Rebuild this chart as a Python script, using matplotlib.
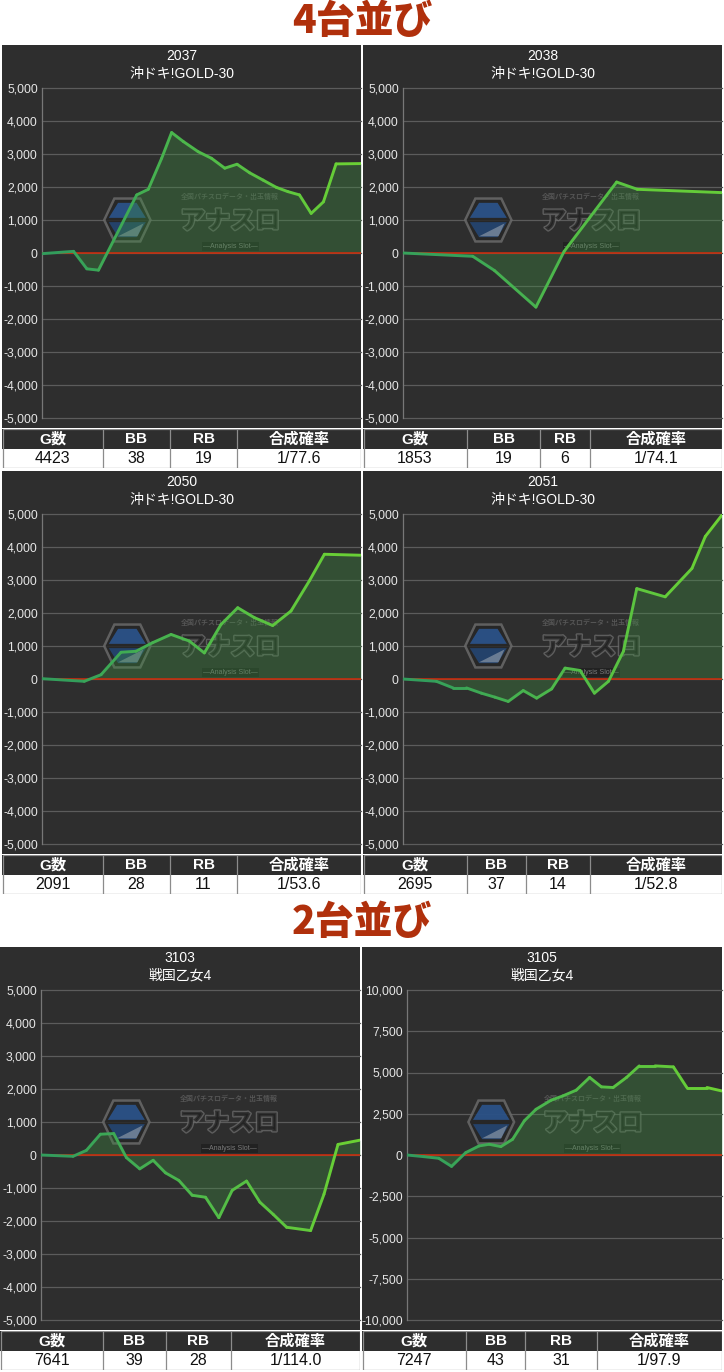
import numpy as np
import matplotlib
matplotlib.use("Agg")
import matplotlib.pyplot as plt
from matplotlib.collections import LineCollection
from matplotlib.colors import LinearSegmentedColormap
from matplotlib.patches import Polygon, Rectangle
from matplotlib import font_manager
import matplotlib.patheffects as pe

W, H = 724, 1372

# ---- data ----
section_titles = ["4台並び", "2台並び"]
units = ["2037", "2038", "2050", "2051", "3103", "3105"]
machines = ["沖ドキ!GOLD-30", "沖ドキ!GOLD-30", "沖ドキ!GOLD-30", "沖ドキ!GOLD-30",
            "戦国乙女4", "戦国乙女4"]

g2037 = [0, 438, 622, 783, 1313, 1474, 1659, 1797, 1958, 2165, 2350, 2534, 2704,
         2879, 3064, 3248, 3409, 3570, 3732, 3902, 4077, 4423]
d2037 = [-20, 50, -480, -520, 1760, 1930, 2870, 3650, 3380, 3070, 2870, 2570, 2690,
         2430, 2210, 1990, 1860, 1760, 1200, 1550, 2700, 2710]

g2038 = [0, 405, 531, 772, 936, 1241, 1361, 1853]
d2038 = [0, -100, -530, -1640, 50, 2150, 1930, 1830]

g2050 = [0, 277, 387, 518, 616, 725, 846, 966, 1064, 1173, 1283, 1392, 1512, 1632,
         1752, 1851, 2091]
d2050 = [10, -70, 130, 810, 840, 1100, 1350, 1150, 790, 1650, 2160, 1860, 1620, 2060,
         2970, 3780, 3750]

g2051 = [0, 282, 423, 536, 663, 776, 889, 1016, 1129, 1256, 1369, 1496, 1617, 1736,
         1862, 1975, 2215, 2441, 2554, 2695]
d2051 = [0, -70, -270, -270, -430, -550, -680, -350, -580, -300, 330, 260, -430, -70,
         840, 2740, 2490, 3350, 4320, 4970]

g3103 = [0, 767, 1087, 1423, 1742, 2046, 2366, 2686, 2981, 3301, 3621, 3941, 4260,
         4580, 4924, 5243, 5563, 5883, 6458, 6778, 7114, 7641]
d3103 = [0, -40, 140, 630, 650, -80, -420, -160, -540, -770, -1220, -1280, -1900,
         -1070, -790, -1430, -1800, -2190, -2290, -1190, 320, 450]

g3105 = [0, 386, 732, 1025, 1349, 1658, 1889, 2159, 2429, 2699, 2968, 3315, 3585,
         3894, 4202, 4472, 4742, 5050, 5343, 5706, 6129, 6438, 6900, 7247]
d3105 = [0, -100, -200, -690, 140, 550, 650, 510, 950, 2070, 2770, 3320, 3580,
         3930, 4700, 4130, 4090, 4700, 5400, 5400, 5340, 4090, 4090, 3880]

games = [g2037, g2038, g2050, g2051, g3103, g3105]
diffs = [d2037, d2038, d2050, d2051, d3103, d3105]
y_max = [5000, 5000, 5000, 5000, 5000, 10000]
y_step = [1000, 1000, 1000, 1000, 1000, 2500]

table_head = ["G数", "BB", "RB", "合成確率"]
g_total = [4423, 1853, 2091, 2695, 7641, 7247]
bb = [38, 19, 28, 37, 39, 43]
rb = [19, 6, 11, 14, 28, 31]
prob = ["1/77.6", "1/74.1", "1/53.6", "1/52.8", "1/114.0", "1/97.9"]

# ---- layout in pixels ----
panels = [
    dict(x0=2, x1=361, top=45, axl=42, cols=[2, 103, 170, 237, 361]),
    dict(x0=363, x1=722, top=45, axl=403, cols=[363, 467, 540, 590, 722]),
    dict(x0=2, x1=361, top=471, axl=42, cols=[2, 103, 170, 237, 361]),
    dict(x0=363, x1=722, top=471, axl=403, cols=[363, 467, 526, 590, 722]),
    dict(x0=0, x1=360, top=947, axl=41, cols=[0, 103, 166, 231, 360]),
    dict(x0=362, x1=722, top=947, axl=407, cols=[362, 466, 525, 597, 722]),
]
section_y = [21, 922]

PANEL = "#2e2e2e"
GRID = "#5c5c5c"
TITLE_RED = "#b0300c"


def pick_font(names):
    for n in names:
        try:
            font_manager.findfont(n, fallback_to_default=False)
            return n
        except Exception:
            continue
    return "DejaVu Sans"


NARROW = pick_font(["Liberation Sans Narrow", "Liberation Sans"])
SANS = pick_font(["Liberation Sans", "DejaVu Sans"])
JP = "Noto Sans CJK JP"
FAM_NARROW = [NARROW, JP, "DejaVu Sans"]
FAM_JP = [JP, "DejaVu Sans"]

line_cmap = LinearSegmentedColormap.from_list("g", ["#2f9a5e", "#4fba4a", "#6cd233"])

fig = plt.figure(figsize=(W / 100, H / 100), dpi=100)
fig.patch.set_facecolor("white")


def px_axes(x0, y0, x1, y1):
    return fig.add_axes([x0 / W, 1 - y1 / H, (x1 - x0) / W, (y1 - y0) / H])


def blank(ax):
    ax.set_xticks([])
    ax.set_yticks([])
    for s in ax.spines.values():
        s.set_visible(False)


def watermark(ax):
    # hexagon logo
    hx0, hx1, hy0, hy1 = 0.195, 0.34, 0.535, 0.665
    w, h = hx1 - hx0, hy1 - hy0
    hexa = [(hx0 + 0.22 * w, hy1), (hx0 + 0.78 * w, hy1), (hx1, hy0 + 0.5 * h),
            (hx0 + 0.78 * w, hy0), (hx0 + 0.22 * w, hy0), (hx0, hy0 + 0.5 * h)]
    ax.add_patch(Polygon(hexa, closed=True, transform=ax.transAxes, facecolor="#262626",
                         edgecolor="#6a6a6a", lw=1.8, alpha=0.85, zorder=2))
    top_half = [(hx0 + 0.3 * w, hy1 - 0.1 * h), (hx0 + 0.7 * w, hy1 - 0.1 * h),
                (hx1 - 0.1 * w, hy0 + 0.55 * h), (hx0 + 0.1 * w, hy0 + 0.55 * h)]
    ax.add_patch(Polygon(top_half, closed=True, transform=ax.transAxes,
                         facecolor="#2c5a9a", edgecolor="none", alpha=0.8, zorder=2))
    bot_half = [(hx0 + 0.1 * w, hy0 + 0.45 * h), (hx1 - 0.1 * w, hy0 + 0.45 * h),
                (hx0 + 0.7 * w, hy0 + 0.1 * h), (hx0 + 0.3 * w, hy0 + 0.1 * h)]
    ax.add_patch(Polygon(bot_half, closed=True, transform=ax.transAxes,
                         facecolor="#24497c", edgecolor="none", alpha=0.8, zorder=2))
    tri = [(hx0 + 0.3 * w, hy0 + 0.12 * h), (hx1 - 0.15 * w, hy0 + 0.42 * h),
           (hx0 + 0.72 * w, hy0 + 0.12 * h)]
    ax.add_patch(Polygon(tri, closed=True, transform=ax.transAxes,
                         facecolor="#9aa4b0", edgecolor="none", alpha=0.6, zorder=2))
    ax.text(0.59, 0.598, "アナスロ", transform=ax.transAxes, ha="center", va="center",
            fontsize=18, fontweight="black", family=FAM_JP, color="#222222", alpha=0.75,
            zorder=2, path_effects=[pe.withStroke(linewidth=2, foreground="#6e6e6e")])
    ax.text(0.59, 0.672, "全国パチスロデータ・出玉情報", transform=ax.transAxes, ha="center",
            va="center", fontsize=5, fontweight="bold", family=FAM_JP, color="#555555",
            zorder=2)
    ax.text(0.59, 0.52, "—Analysis Slot—", transform=ax.transAxes, ha="center",
            va="center", fontsize=5, family=[SANS], color="#7a7a7a", zorder=2,
            bbox=dict(boxstyle="square,pad=0.15", facecolor="#1e1e1e", edgecolor="none",
                      alpha=0.75))


def draw_panel(i):
    p = panels[i]
    x0, x1, top, axl = p["x0"], p["x1"], p["top"], p["axl"]
    g = np.array(games[i], dtype=float)
    d = np.array(diffs[i], dtype=float)

    bg = px_axes(x0, top, x1, top + 383)
    bg.set_facecolor(PANEL)
    blank(bg)

    cx = (x0 + x1) / 2 / W
    fig.text(cx, 1 - (top + 11) / H, units[i], ha="center", va="center",
             fontsize=10, family=FAM_NARROW, color="white")
    fig.text(cx, 1 - (top + 29) / H, machines[i], ha="center", va="center",
             fontsize=10, family=FAM_NARROW, color="white")

    ax = px_axes(axl, top + 43, x1, top + 373)
    ax.set_facecolor("none")
    ym = y_max[i]
    ax.set_ylim(-ym, ym)
    ax.set_xlim(0, g_total[i])
    ticks = np.arange(-ym, ym + 1, y_step[i])
    ax.set_yticks(ticks)
    ax.set_yticklabels([f"{int(t):,}" for t in ticks], family=[SANS], fontsize=8.8,
                       color="#e6e6e6")
    ax.set_xticks([])
    ax.tick_params(axis="y", length=0, pad=3)
    for t in ticks:
        ax.axhline(t, color=GRID, lw=0.9, zorder=1, clip_on=False)
    for s in ["top", "right", "bottom"]:
        ax.spines[s].set_visible(False)
    ax.spines["left"].set_color("#777777")
    ax.spines["left"].set_linewidth(0.9)

    watermark(ax)

    ax.fill_between(g, d, 0, color="#3e8f40", alpha=0.34, lw=0, zorder=3)
    ax.axhline(0, color="#d42a0a", lw=1.1, zorder=4)

    pts = np.column_stack([g, d])
    segs = np.stack([pts[:-1], pts[1:]], axis=1)
    mids = (g[:-1] + g[1:]) / 2 / g_total[i]
    lc = LineCollection(segs, colors=line_cmap(mids), linewidths=2.1, zorder=5,
                        capstyle="round", joinstyle="round")
    ax.add_collection(lc)

    # stats table below the chart
    cols = p["cols"]
    tb = px_axes(x0, top + 384, x1, top + 423)
    tb.set_xlim(x0, x1)
    tb.set_ylim(top + 423, top + 384)
    blank(tb)
    tb.set_facecolor("white")
    hy0, hy1, vy1 = top + 384, top + 403.5, top + 422.5
    tb.add_patch(Rectangle((x0, hy0), x1 - x0, hy1 - hy0, facecolor=PANEL, edgecolor="none"))
    tb.add_patch(Rectangle((x0 + 0.5, hy0), x1 - x0 - 1, vy1 - hy0, facecolor="none",
                           edgecolor="#8c8c8c", lw=0.9))
    for c in cols[1:-1]:
        tb.plot([c, c], [hy0, vy1], color="#8c8c8c", lw=0.9)
    vals = [str(g_total[i]), str(bb[i]), str(rb[i]), prob[i]]
    for k in range(4):
        mx = (cols[k] + cols[k + 1]) / 2
        tb.text(mx, (hy0 + hy1) / 2 + 0.5, table_head[k], ha="center", va="center",
                fontsize=11, fontweight="bold", family=FAM_NARROW, color="white")
        tb.text(mx, (hy1 + vy1) / 2 + 0.5, vals[k], ha="center", va="center",
                fontsize=11.5, family=FAM_NARROW, color="#111111")


for k, t in enumerate(section_titles):
    fig.text(0.5, 1 - section_y[k] / H, t, ha="center", va="center", fontsize=28,
             fontweight="black", family=FAM_JP, color=TITLE_RED)

for i in range(len(units)):
    draw_panel(i)

fig.savefig("out.png", dpi=100, facecolor="white")
